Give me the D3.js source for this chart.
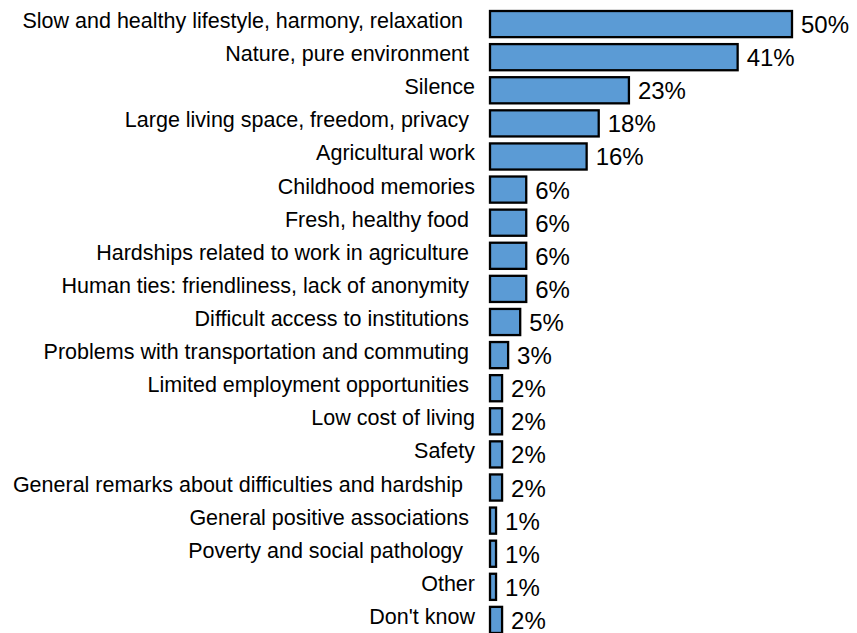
<!DOCTYPE html>
<html>
<head>
<meta charset="utf-8">
<script src="https://cdn.jsdelivr.net/npm/d3@7"></script>
<style>
  body { margin: 0; background: #fff; }
  text { font-family: "Liberation Sans", Arial, sans-serif; fill: #000; }
</style>
</head>
<body>
<script>
// categories, top to bottom (trailing spaces kept as in the original labels)
var categories = [
  "Slow and healthy lifestyle, harmony, relaxation  ",
  "Nature, pure environment ",
  "Silence",
  "Large living space, freedom, privacy ",
  "Agricultural work",
  "Childhood memories",
  "Fresh, healthy food ",
  "Hardships related to work in agriculture ",
  "Human ties: friendliness, lack of anonymity ",
  "Difficult access to institutions ",
  "Problems with transportation and commuting ",
  "Limited employment opportunities ",
  "Low cost of living",
  "Safety",
  "General remarks about difficulties and hardship  ",
  "General positive associations ",
  "Poverty and social pathology  ",
  "Other",
  "Don't know"
];

// share of answers, in percent
var values = [50, 41, 23, 18, 16, 6, 6, 6, 6, 5, 3, 2, 2, 2, 2, 1, 1, 1, 2];

var width = 857, height = 633;

var svg = d3.select("body")
            .append("svg")
            .attr("width", width)
            .attr("height", height);

// scales
var xScale = d3.scaleLinear()
                .domain([0, 50])
                .range([490, 792]);

var yScale = d3.scaleBand()
                .domain(d3.range(categories.length))
                .range([10, 634])
                .paddingInner(0.15)
                .paddingOuter(0);

// bars
svg.selectAll("rect.bar")
    .data(values)
    .enter()
    .append("rect")
    .attr("class", "bar")
    .attr("x", xScale(0))
    .attr("y", function(d, i) { return yScale(i) + 1; })
    .attr("width", function(d) { return xScale(d) - xScale(0); })
    .attr("height", yScale.bandwidth() - 2)
    .style("fill", "#5b9bd5")
    .style("stroke", "#000")
    .style("stroke-width", 2.3);

// category labels
svg.selectAll("text.cat")
    .data(categories)
    .enter()
    .append("text")
    .attr("class", "cat")
    .attr("x", 475)
    .attr("y", function(d, i) { return yScale(i) + yScale.bandwidth() / 2 - 3; })
    .attr("text-anchor", "end")
    .attr("dominant-baseline", "central")
    .style("white-space", "pre")
    .style("font-size", "21.5px")
    .text(function(d) { return d; });

// value labels
svg.selectAll("text.val")
    .data(values)
    .enter()
    .append("text")
    .attr("class", "val")
    .attr("x", function(d) { return xScale(d) + 9; })
    .attr("y", function(d, i) { return yScale(i) + yScale.bandwidth() / 2 + 0.5; })
    .attr("dominant-baseline", "central")
    .style("font-size", "24px")
    .text(function(d) { return d + "%"; });
</script>
</body>
</html>
